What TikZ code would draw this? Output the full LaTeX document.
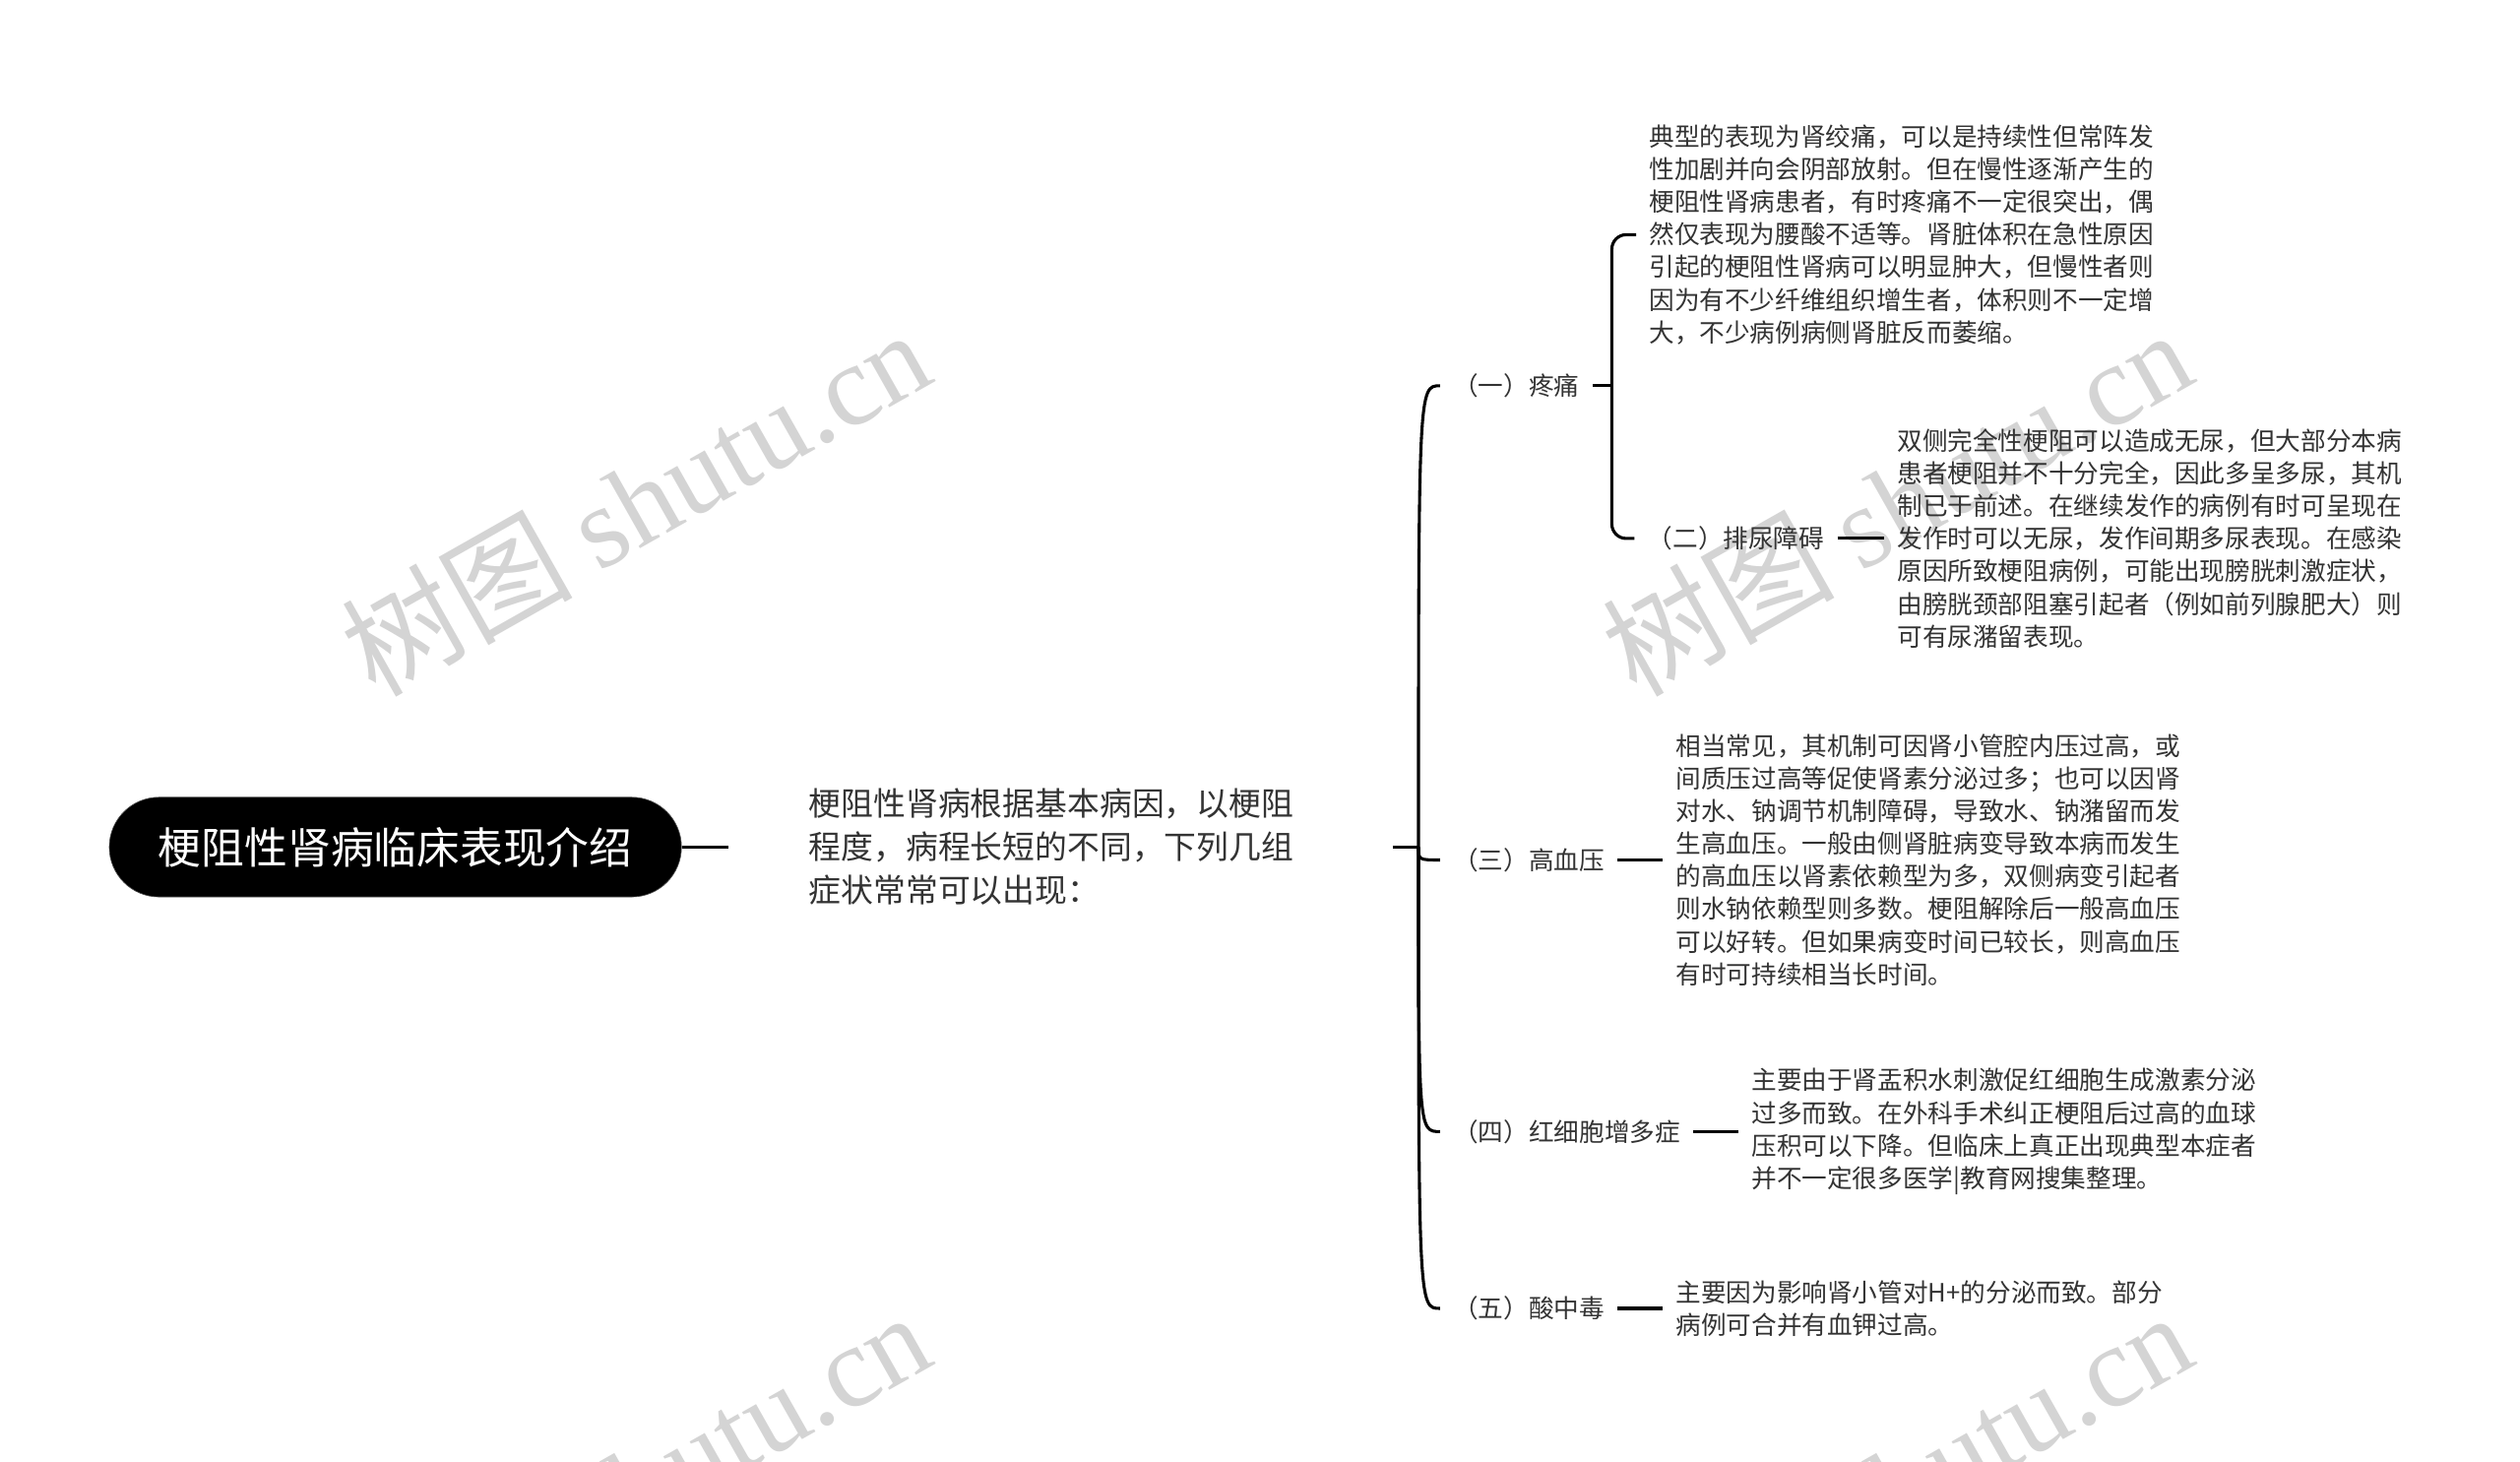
\documentclass[tikz,border=0pt]{standalone}
\usepackage{fontspec}
\setmainfont{Noto Sans CJK SC}
\newfontfamily\wmserif{Liberation Serif}
\usetikzlibrary{positioning}
\definecolor{ink}{HTML}{333333}
\definecolor{wmgray}{HTML}{D4D4D4}

\begin{document}
\begin{tikzpicture}[x=1pt,y=-1pt,
hub/.style={fill=black,draw=black!70,rounded corners=31pt,minimum width=356pt,minimum height=62pt,text=white,font=\fontsize{26.8}{32}\selectfont},
lead/.style={align=left,text width=313pt,inner xsep=50pt,text=ink,font=\fontsize{20.1}{27}\selectfont},
lbl/.style={anchor=west,inner xsep=8pt,text=ink,font=\fontsize{15.7}{20.3}\selectfont},
desc/.style={align=left,inner xsep=8pt,text=ink,font=\fontsize{15.7}{20.3}\selectfont},
link/.style={line width=1.9pt},
wm/.style={rotate=29.5,text=wmgray,font=\fontsize{72}{76}\selectfont}]
\useasboundingbox (0,0) rectangle (1568,909);
\node[wm] at (395,312) {树图 {\wmserif shutu.cn}};
\node[wm] at (1180,312) {树图 {\wmserif shutu.cn}};
\node[wm] at (395,923) {树图 {\wmserif shutu.cn}};
\node[wm] at (1180,923) {树图 {\wmserif shutu.cn}};
\node[hub] (r) at (246,527) {梗阻性肾病临床表现介绍};
\node[lead,right=29pt of r] (i) {梗阻性肾病根据基本病因，以梗阻\\程度，病程长短的不同，下列几组\\症状常常可以出现：};
\node[lbl] (a1) at (896,240) {（一）疼痛};
\node[lbl] (a2) at (1017,335) {（二）排尿障碍};
\node[lbl] (a3) at (896,535) {（三）高血压};
\node[lbl] (a4) at (896,704) {（四）红细胞增多症};
\node[lbl] (a5) at (896,814) {（五）酸中毒};
\node[desc,anchor=west] (d1) at (1018,146) {典型的表现为肾绞痛，可以是持续性但常阵发\\性加剧并向会阴部放射。但在慢性逐渐产生的\\梗阻性肾病患者，有时疼痛不一定很突出，偶\\然仅表现为腰酸不适等。肾脏体积在急性原因\\引起的梗阻性肾病可以明显肿大，但慢性者则\\因为有不少纤维组织增生者，体积则不一定增\\大，不少病例病侧肾脏反而萎缩。};
\node[desc,right=29pt of a2] (d2) {双侧完全性梗阻可以造成无尿，但大部分本病\\患者梗阻并不十分完全，因此多呈多尿，其机\\制已于前述。在继续发作的病例有时可呈现在\\发作时可以无尿，发作间期多尿表现。在感染\\原因所致梗阻病例，可能出现膀胱刺激症状，\\由膀胱颈部阻塞引起者（例如前列腺肥大）则\\可有尿潴留表现。};
\node[desc,right=28pt of a3] (d3) {相当常见，其机制可因肾小管腔内压过高，或\\间质压过高等促使肾素分泌过多；也可以因肾\\对水、钠调节机制障碍，导致水、钠潴留而发\\生高血压。一般由侧肾脏病变导致本病而发生\\的高血压以肾素依赖型为多，双侧病变引起者\\则水钠依赖型则多数。梗阻解除后一般高血压\\可以好转。但如果病变时间已较长，则高血压\\有时可持续相当长时间。};
\node[desc,right=28pt of a4] (d4) {主要由于肾盂积水刺激促红细胞生成激素分泌\\过多而致。在外科手术纠正梗阻后过高的血球\\压积可以下降。但临床上真正出现典型本症者\\并不一定很多医学|教育网搜集整理。};
\node[desc,right=28pt of a5] (d5) {主要因为影响肾小管对H+的分泌而致。部分\\病例可合并有血钾过高。};
\draw[link] (r.east) -- (i.west);
\draw[link] (i.east) -- ++(16,0) coordinate (sp);
\draw[link] (sp) .. controls (sp |- a1.west) .. (a1.west);
\draw[link] (sp) .. controls (sp |- a3.west) .. (a3.west);
\draw[link] (sp) .. controls (sp |- a4.west) .. (a4.west);
\draw[link] (sp) .. controls (sp |- a5.west) .. (a5.west);
\draw[link] (a1.east) -- ++(12,0) coordinate (sq);
\draw[link,rounded corners=9pt] (sq) |- (d1.west);
\draw[link,rounded corners=9pt] (sq) |- (a2.west);
\draw[link] (a2.east) -- (d2.west);
\draw[link] (a3.east) -- (d3.west);
\draw[link] (a4.east) -- (d4.west);
\draw[link] (a5.east) -- (d5.west);
\end{tikzpicture}
\end{document}
